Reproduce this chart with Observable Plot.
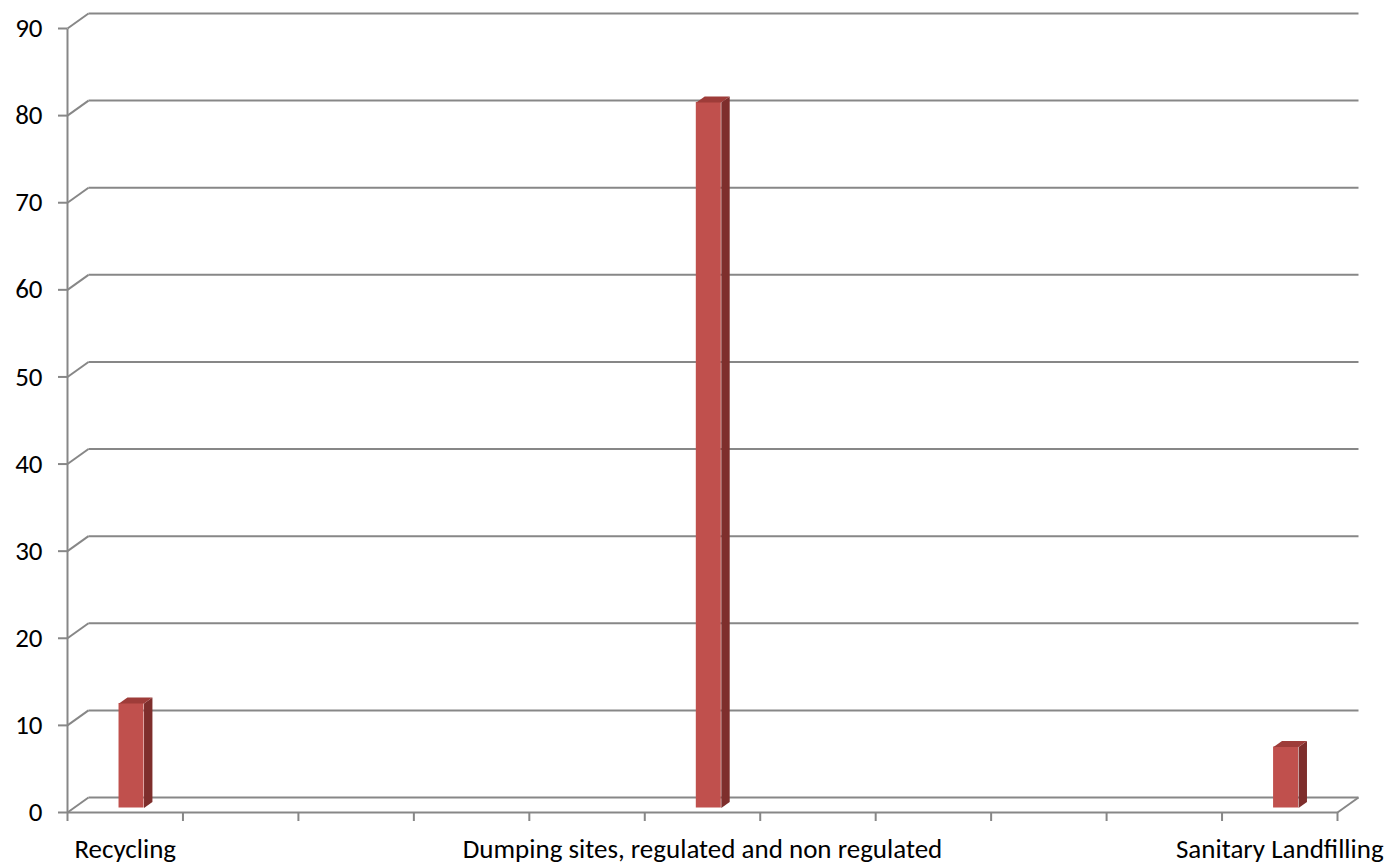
<!DOCTYPE html>
<html>
<head>
<meta charset="utf-8">
<script src="https://cdn.jsdelivr.net/npm/d3@7"></script>
<script src="https://cdn.jsdelivr.net/npm/@observablehq/plot@0.6"></script>
<style>
  html, body { margin: 0; padding: 0; background: #fff; }
  #chart { width: 1390px; height: 865px; }
</style>
</head>
<body>
<div id="chart"></div>
<script>
// ---- Data ----
// 11 category slots on the axis; Excel only printed every 5th label.
const categories = ["Recycling", "", "", "", "", "Dumping sites, regulated and non regulated", "", "", "", "", "Sanitary Landfilling"];
const values = [12, null, null, null, null, 81, null, null, null, null, 7];
const yTicks = [0, 10, 20, 30, 40, 50, 60, 70, 80, 90];

// ---- Layout / style ----
const W = 1390, H = 865;
const mL = 67, mR = 53, mT = 28, mB = 53;
const gridColor = "#878787";
const frontColor = "#C0504D", sideColor = "#7E2E2C", topColor = "#9E3C39";
const fontFamily = "Carlito, Calibri, Lato, sans-serif";
const fontSize = 27;

const nSlots = categories.length;
const yMax = 90;
const pxPerSlot = (W - mL - mR) / nSlots;
const pxPerUnit = (H - mT - mB) / yMax;
// 3D depth of the floor (pixels) expressed in data units
const depthX = 21 / pxPerSlot;
const depthY = 15 / pxPerUnit;
const barW = 25 / pxPerSlot;
const f0 = 0.3, f1 = 0.7; // bar depth position (fraction of floor depth)

const rows = values.map((v, i) => ({i, v, label: categories[i]})).filter(d => d.v != null);

const fronts = rows.map(d => {
  const x1 = d.i + 0.5 - barW / 2 + f0 * depthX;
  return {x1, x2: x1 + barW, y1: f0 * depthY, y2: d.v + f0 * depthY};
});
const ddx = (f1 - f0) * depthX, ddy = (f1 - f0) * depthY;
const sides = [], tops = [];
fronts.forEach((f, k) => {
  sides.push({k, x: f.x2, y: f.y1}, {k, x: f.x2, y: f.y2}, {k, x: f.x2 + ddx, y: f.y2 + ddy}, {k, x: f.x2 + ddx, y: f.y1 + ddy});
  tops.push({k, x: f.x1, y: f.y2}, {k, x: f.x2, y: f.y2}, {k, x: f.x2 + ddx, y: f.y2 + ddy}, {k, x: f.x1 + ddx, y: f.y2 + ddy});
});

const wallDiag = yTicks.map(v => ({x1: 0, y1: v, x2: depthX, y2: v + depthY}));
const backLines = yTicks.map(v => ({x1: depthX, y1: v + depthY, x2: nSlots + depthX, y2: v + depthY}));
const floorEdges = [
  {x1: 0, y1: 0, x2: nSlots, y2: 0},
  {x1: nSlots, y1: 0, x2: nSlots + depthX, y2: depthY},
  {x1: 0, y1: 0, x2: 0, y2: yMax}
];
const labelTicks = categories.map((c, i) => ({i, c})).filter(d => d.c !== "");

const chart = Plot.plot({
  width: W, height: H,
  marginLeft: mL, marginRight: mR, marginTop: mT, marginBottom: mB,
  style: {fontFamily, fontSize: fontSize + "px", color: "#000", background: "#fff", overflow: "visible"},
  x: {type: "linear", domain: [0, nSlots], axis: null},
  y: {type: "linear", domain: [0, yMax], axis: null},
  marks: [
    Plot.link(backLines, {x1: "x1", y1: "y1", x2: "x2", y2: "y2", stroke: gridColor, strokeWidth: 2}),
    Plot.link(wallDiag, {x1: "x1", y1: "y1", x2: "x2", y2: "y2", stroke: gridColor, strokeWidth: 2}),
    Plot.link(floorEdges, {x1: "x1", y1: "y1", x2: "x2", y2: "y2", stroke: gridColor, strokeWidth: 2}),
    Plot.axisY({ticks: yTicks, tickSize: 9, tickPadding: 16, stroke: gridColor, strokeWidth: 2, label: null, fontSize, fill: "#000"}),
    Plot.axisX({ticks: d3.range(nSlots + 1), tickSize: 9, tickFormat: () => "", stroke: gridColor, strokeWidth: 2, label: null}),
    Plot.axisX({ticks: labelTicks.map(d => d.i + 0.5), tickSize: 0, tickPadding: 26, tickFormat: t => categories[Math.floor(t)], label: null, fontSize, fill: "#000"}),
    Plot.rect(fronts, {x1: "x1", x2: "x2", y1: "y1", y2: "y2", fill: frontColor}),
    Plot.line(sides, {x: "x", y: "y", z: "k", fill: sideColor, stroke: null}),
    Plot.line(tops, {x: "x", y: "y", z: "k", fill: topColor, stroke: null})
  ]
});
document.getElementById("chart").appendChild(chart);
</script>
</body>
</html>
